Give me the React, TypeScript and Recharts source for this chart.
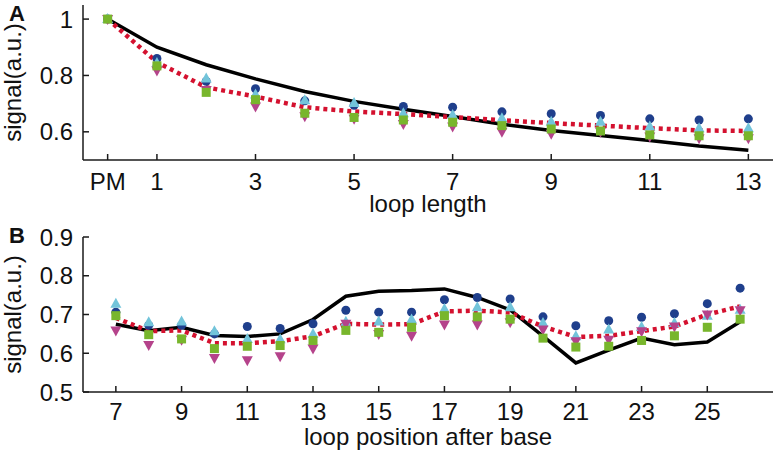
import { ComposedChart, Line, XAxis, YAxis } from "recharts";

// panel A: loop length (PM = 0)
const lengthX = [0, 1, 2, 3, 4, 5, 6, 7, 8, 9, 10, 11, 12, 13];
const lengthTicks = [0, 1, 3, 5, 7, 9, 11, 13];
const lengthYTicks = [0.6, 0.8, 1];
const lengthModel = [1.0, 0.9, 0.838, 0.788, 0.743, 0.708, 0.68, 0.654, 0.627, 0.605, 0.587, 0.569, 0.55, 0.535];
const lengthMean = [1.0, 0.847, 0.758, 0.725, 0.687, 0.672, 0.663, 0.652, 0.641, 0.631, 0.622, 0.613, 0.605, 0.603];
const lengthCircle = [1.0, 0.86, 0.779, 0.753, 0.71, 0.694, 0.69, 0.687, 0.671, 0.664, 0.658, 0.646, 0.642, 0.646];
const lengthTri = [1.0, 0.844, 0.789, 0.732, 0.712, 0.702, 0.666, 0.66, 0.648, 0.636, 0.636, 0.619, 0.613, 0.613];
const lengthSquare = [1.0, 0.834, 0.74, 0.714, 0.666, 0.651, 0.642, 0.634, 0.622, 0.61, 0.603, 0.589, 0.586, 0.586];
const lengthDown = [1.0, 0.818, 0.748, 0.69, 0.655, 0.646, 0.628, 0.619, 0.6, 0.593, 0.6, 0.583, 0.577, 0.577];

// panel B: loop position after base
const posX = [7, 8, 9, 10, 11, 12, 13, 14, 15, 16, 17, 18, 19, 20, 21, 22, 23, 24, 25, 26];
const posTicks = [7, 9, 11, 13, 15, 17, 19, 21, 23, 25];
const posYTicks = [0.5, 0.6, 0.7, 0.8, 0.9];
const posModel = [0.675, 0.658, 0.667, 0.646, 0.643, 0.65, 0.687, 0.747, 0.76, 0.762, 0.766, 0.744, 0.712, 0.644, 0.575, 0.608, 0.639, 0.622, 0.629, 0.681];
const posMean = [0.691, 0.657, 0.659, 0.626, 0.626, 0.631, 0.644, 0.676, 0.674, 0.675, 0.708, 0.71, 0.705, 0.669, 0.642, 0.645, 0.657, 0.669, 0.7, 0.721];
const posCircle = [0.706, 0.672, 0.672, 0.65, 0.669, 0.664, 0.676, 0.711, 0.706, 0.706, 0.738, 0.744, 0.74, 0.694, 0.671, 0.684, 0.693, 0.702, 0.728, 0.768];
const posTri = [0.728, 0.68, 0.682, 0.657, 0.637, 0.636, 0.65, 0.681, 0.682, 0.687, 0.714, 0.719, 0.719, 0.678, 0.644, 0.661, 0.668, 0.678, 0.697, 0.712];
const posSquare = [0.697, 0.648, 0.637, 0.612, 0.618, 0.62, 0.633, 0.659, 0.654, 0.667, 0.697, 0.694, 0.688, 0.639, 0.616, 0.618, 0.633, 0.645, 0.667, 0.688];
const posDown = [0.659, 0.621, 0.635, 0.588, 0.582, 0.592, 0.612, 0.676, 0.65, 0.645, 0.674, 0.674, 0.68, 0.661, 0.631, 0.635, 0.657, 0.669, 0.7, 0.711];

const FONT = "'Liberation Sans', Arial, Helvetica, sans-serif";
const AXIS = "#1a1a1a";

const circleDot = (p: any) =>
  p.cx == null ? <g key={p.key} /> : <circle key={p.key} cx={p.cx} cy={p.cy} r={4.5} fill="#1f3f8c" />;
const triDot = (p: any) =>
  p.cx == null ? <g key={p.key} /> : (
    <path key={p.key} d={`M${p.cx},${p.cy - 6}L${p.cx + 5.5},${p.cy + 4}L${p.cx - 5.5},${p.cy + 4}Z`} fill="#72c4da" />
  );
const squareDot = (p: any) =>
  p.cx == null ? <g key={p.key} /> : <rect key={p.key} x={p.cx - 4.5} y={p.cy - 4.5} width={9} height={9} fill="#78b62c" />;
const downDot = (p: any) =>
  p.cx == null ? <g key={p.key} /> : (
    <path key={p.key} d={`M${p.cx - 5.5},${p.cy - 4}L${p.cx + 5.5},${p.cy - 4}L${p.cx},${p.cy + 6}Z`} fill="#b5438b" />
  );

type PanelProps = {
  rows: any[];
  height: number;
  top: number;
  xDomain: [number, number];
  yDomain: [number, number];
  xTicks: number[];
  yTicks: number[];
  xLabel: string;
  xFmt?: (v: number) => string;
  labelOffset: number;
  xHeight: number;
  fontSize: number;
  xTickMargin: number;
};

const Panel = ({
  rows, height, top, xDomain, yDomain, xTicks, yTicks, xLabel, xFmt, labelOffset, xHeight, fontSize, xTickMargin,
}: PanelProps) => {
  const tickStyle = { fill: "#111", fontSize, fontFamily: FONT };
  const lineProps = { stroke: AXIS, strokeWidth: 1.5 };
  return (
    <ComposedChart
      width={780}
      height={height}
      data={rows}
      margin={{ top, right: 7, bottom: 0, left: 0 }}
      style={{ overflow: "visible" }}
    >
      <XAxis
        dataKey="x"
        type="number"
        domain={xDomain}
        ticks={xTicks}
        tickFormatter={xFmt}
        tick={tickStyle}
        tickSize={-6}
        tickMargin={xTickMargin}
        axisLine={lineProps}
        tickLine={lineProps}
        height={xHeight}
        interval={0}
        label={{ value: xLabel, position: "insideBottom", offset: labelOffset, fill: "#111", fontSize, fontFamily: FONT }}
      />
      <XAxis
        xAxisId="top"
        orientation="top"
        dataKey="x"
        type="number"
        domain={xDomain}
        ticks={xTicks}
        tick={false}
        tickSize={-6}
        axisLine={lineProps}
        tickLine={lineProps}
        height={0}
        interval={0}
      />
      <YAxis
        type="number"
        domain={yDomain}
        ticks={yTicks}
        tick={tickStyle}
        tickSize={-6}
        tickMargin={16}
        axisLine={lineProps}
        tickLine={lineProps}
        width={83}
        interval={0}
        allowDataOverflow
        label={{
          value: "signal(a.u.)",
          angle: -90,
          position: "insideLeft",
          offset: 12,
          fill: "#111",
          fontSize,
          fontFamily: FONT,
          style: { textAnchor: "middle" },
        }}
      />
      <YAxis
        yAxisId="right"
        orientation="right"
        type="number"
        domain={yDomain}
        ticks={yTicks}
        tick={false}
        tickSize={-6}
        axisLine={lineProps}
        tickLine={lineProps}
        width={0}
        interval={0}
        allowDataOverflow
      />
      <Line dataKey="model" stroke="#000" strokeWidth={3.5} dot={false} activeDot={false} isAnimationActive={false} />
      <Line dataKey="circle" stroke="none" dot={circleDot} activeDot={false} isAnimationActive={false} />
      <Line dataKey="tri" stroke="none" dot={triDot} activeDot={false} isAnimationActive={false} />
      <Line dataKey="down" stroke="none" dot={downDot} activeDot={false} isAnimationActive={false} />
      <Line dataKey="square" stroke="none" dot={squareDot} activeDot={false} isAnimationActive={false} />
      <Line
        dataKey="mean"
        stroke="#d4112f"
        strokeWidth={4.5}
        strokeDasharray="4 4"
        dot={false}
        activeDot={false}
        isAnimationActive={false}
      />
    </ComposedChart>
  );
};

const lengthRows = lengthX.map((x, i) => ({
  x,
  model: lengthModel[i],
  mean: lengthMean[i],
  circle: lengthCircle[i],
  tri: lengthTri[i],
  square: lengthSquare[i],
  down: lengthDown[i],
}));

const posRows = posX.map((x, i) => ({
  x,
  model: posModel[i],
  mean: posMean[i],
  circle: posCircle[i],
  tri: posTri[i],
  square: posSquare[i],
  down: posDown[i],
}));

const panelLabel = (text: string, top: number) => (
  <div style={{ position: "absolute", left: 9, top, fontFamily: FONT, fontWeight: "bold", fontSize: 22, color: "#111" }}>
    {text}
  </div>
);

export default function App() {
  return (
    <div style={{ position: "absolute", left: 0, top: 0, width: 780, height: 457, background: "#fff" }}>
      <Panel
        rows={lengthRows}
        height={228}
        top={5}
        xDomain={[-0.5, 13.5]}
        yDomain={[0.5, 1.05]}
        xTicks={lengthTicks}
        yTicks={lengthYTicks}
        xLabel="loop length"
        xFmt={(v) => (v === 0 ? "PM" : String(v))}
        labelOffset={16}
        xHeight={68}
        fontSize={24}
        xTickMargin={19}
      />
      <Panel
        rows={posRows}
        height={229}
        top={9}
        xDomain={[6, 27]}
        yDomain={[0.5, 0.9]}
        xTicks={posTicks}
        yTicks={posYTicks}
        xLabel="loop position after base"
        labelOffset={12}
        xHeight={65}
        fontSize={24}
        xTickMargin={17}
      />
      {panelLabel("A", 1)}
      {panelLabel("B", 223)}
    </div>
  );
}
